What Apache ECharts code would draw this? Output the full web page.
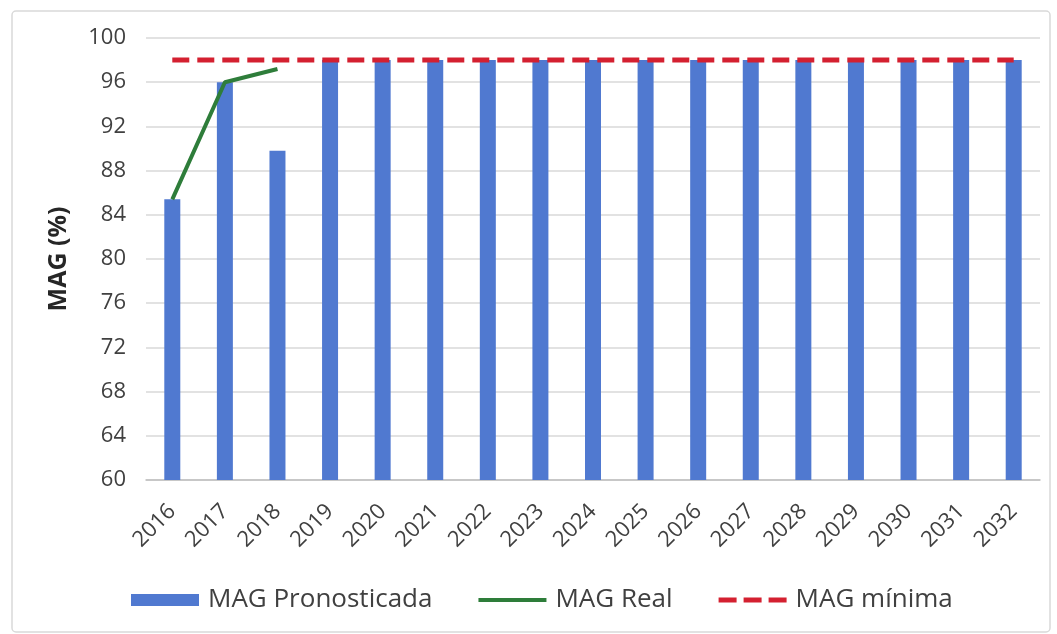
<!DOCTYPE html>
<html>
<head>
<meta charset="utf-8">
<script src="https://cdn.jsdelivr.net/npm/echarts@6/dist/echarts.min.js"></script>
<style>
  html, body { margin: 0; padding: 0; background: #ffffff; }
  #chart { width: 1057px; height: 634px; }
</style>
</head>
<body>
<div id="chart"></div>
<script>
// Years on the category axis
const years = ['2016','2017','2018','2019','2020','2021','2022','2023','2024',
               '2025','2026','2027','2028','2029','2030','2031','2032'];
// Forecast MAG (%) per year
const magPronosticada = [85.4, 96, 89.8, 98, 98, 98, 98, 98, 98, 98, 98, 98, 98, 98, 98, 98, 98];
// Measured MAG (%), only available for the first years
const magReal = [85.4, 96, 97.2, null, null, null, null, null, null, null, null, null, null, null, null, null, null];
// Minimum required MAG (%)
const magMinima = [98, 98, 98, 98, 98, 98, 98, 98, 98, 98, 98, 98, 98, 98, 98, 98, 98];
// Value axis range
const yMin = 60, yMax = 100, yStep = 4;

const font = 'Open Sans';
const textColor = '#404040';
const barColor = '#5079d0';
const realColor = '#2e7d3a';
const minColor = '#d42030';

const chart = echarts.init(document.getElementById('chart'));
chart.setOption({
  animation: false,
  textStyle: { fontFamily: font },
  graphic: [{
    type: 'rect',
    shape: { x: 12, y: 11, width: 1038, height: 621, r: 4 },
    style: { fill: 'none', stroke: '#d9d9d9', lineWidth: 1.5 },
    silent: true, z: -1
  }],
  grid: { left: 146, right: 17, top: 38, bottom: 154 },
  legend: {
    bottom: 16,
    left: 126,
    itemGap: 46,
    itemWidth: 68,
    itemHeight: 12,
    textStyle: { fontSize: 26, color: textColor, fontFamily: font, padding: [0, 0, 0, 4] },
    data: [
      { name: 'MAG Pronosticada', icon: 'rect', itemStyle: { color: barColor } },
      { name: 'MAG Real', icon: 'path://M0,0 L68,0 L68,4 L0,4 Z', itemStyle: { color: realColor } },
      { name: 'MAG mínima',
        icon: 'path://M0,0 L18,0 L18,5 L0,5 Z M25,0 L43,0 L43,5 L25,5 Z M50,0 L68,0 L68,5 L50,5 Z',
        itemStyle: { color: minColor } }
    ]
  },
  xAxis: {
    type: 'category',
    data: years,
    axisLine: { lineStyle: { color: '#bfbfbf', width: 1.5 } },
    axisTick: { show: false },
    axisLabel: { rotate: 45, fontSize: 22, color: textColor, margin: 28, fontFamily: font }
  },
  yAxis: {
    type: 'value',
    min: yMin, max: yMax, interval: yStep,
    name: 'MAG (%)',
    nameLocation: 'middle',
    nameGap: 75,
    nameTextStyle: { fontSize: 25, fontWeight: 'bold', color: '#262626', fontFamily: font },
    axisLine: { show: false },
    axisTick: { show: false },
    axisLabel: { fontSize: 22, color: textColor, margin: 20, fontFamily: font },
    splitLine: { lineStyle: { color: '#d9d9d9', width: 1.5 } }
  },
  series: [
    {
      name: 'MAG Pronosticada',
      type: 'bar',
      data: magPronosticada,
      barWidth: 16,
      itemStyle: { color: barColor },
      z: 2
    },
    {
      name: 'MAG Real',
      type: 'line',
      data: magReal,
      symbol: 'none',
      connectNulls: false,
      lineStyle: { color: realColor, width: 4 },
      itemStyle: { color: realColor },
      z: 4
    },
    {
      name: 'MAG mínima',
      type: 'line',
      data: magMinima,
      symbol: 'none',
      lineStyle: { color: minColor, width: 5, type: [17, 8] },
      itemStyle: { color: minColor },
      z: 3
    }
  ]
});
</script>
</body>
</html>
